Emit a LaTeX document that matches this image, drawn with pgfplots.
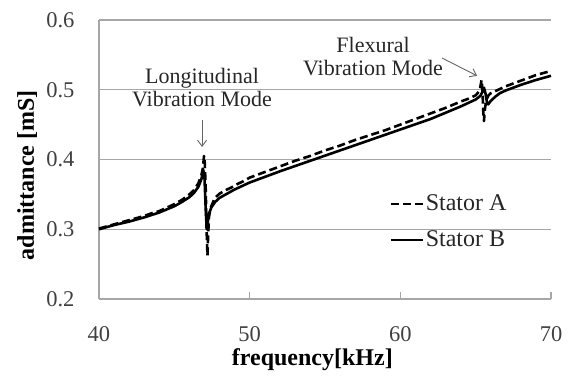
\documentclass[border=0pt]{standalone}
\usepackage{fontspec}
\setmainfont{Liberation Serif}
\usepackage{pgfplots}
\pgfplotsset{compat=1.18}
\usetikzlibrary{arrows.meta}
\definecolor{gridgray}{HTML}{A6A6A6}
\definecolor{tickgray}{HTML}{404040}
\definecolor{txtgray}{HTML}{262626}

\pgfplotstableread{
f y
40.0 0.301
40.5 0.304
41.0 0.307
41.5 0.310
42.0 0.313
42.5 0.316
43.0 0.319
43.5 0.323
44.0 0.326
44.5 0.331
45.0 0.336
45.5 0.342
46.0 0.350
46.3 0.356
46.6 0.366
46.8 0.378
46.9 0.388
46.97 0.405
47.02 0.395
47.08 0.360
47.14 0.300
47.2 0.262
47.24 0.290
47.3 0.318
47.4 0.330
47.55 0.338
47.7 0.345
48.0 0.351
48.4 0.356
48.8 0.360
49.2 0.365
49.6 0.369
50.0 0.374
51.0 0.382
52.0 0.390
53.0 0.398
54.0 0.405
55.0 0.413
56.0 0.420
57.0 0.428
58.0 0.435
59.0 0.442
60.0 0.450
61.0 0.458
62.0 0.466
63.0 0.474
64.0 0.483
64.5 0.487
65.0 0.492
65.2 0.497
65.3 0.503
65.39 0.514
65.45 0.500
65.5 0.470
65.55 0.455
65.6 0.470
65.7 0.485
65.85 0.492
66.0 0.495
66.5 0.500
67.0 0.505
67.5 0.509
68.0 0.513
68.5 0.517
69.0 0.521
69.5 0.524
70.0 0.527
}\statorA

\pgfplotstableread{
f y
40.0 0.300
41.0 0.306
42.0 0.311
43.0 0.317
44.0 0.324
45.0 0.333
45.5 0.339
46.0 0.346
46.3 0.352
46.6 0.361
46.8 0.372
46.92 0.385
47.0 0.375
47.08 0.330
47.15 0.300
47.22 0.310
47.3 0.322
47.45 0.331
47.7 0.339
48.0 0.345
48.5 0.351
49.0 0.357
50.0 0.367
52.0 0.383
54.0 0.398
56.0 0.413
58.0 0.428
60.0 0.443
62.0 0.458
64.0 0.476
65.0 0.486
65.3 0.491
65.45 0.497
65.55 0.503
65.65 0.495
65.75 0.482
65.83 0.479
66.0 0.484
66.3 0.490
66.6 0.495
67.0 0.499
68.0 0.507
69.0 0.514
70.0 0.520
}\statorB

\begin{document}
\fontsize{22}{25}\selectfont
\begin{tikzpicture}
\begin{axis}[
  name=ax,
  scale only axis, width=452pt, height=279pt,
  xmin=40, xmax=70, ymin=0.2, ymax=0.6,
  xtick={40,50,60,70}, ytick={0.2,0.3,0.4,0.5,0.6},
  /pgf/number format/assume math mode=true,
  yticklabel style={/pgf/number format/fixed, /pgf/number format/precision=1, /pgf/number format/fixed zerofill, xshift=-17pt},
  xticklabel style={yshift=-20pt},
  ticklabel style={font=\fontsize{22.5}{25}\selectfont, text=tickgray},
  axis x line*=bottom, axis y line*=left,
  axis line style={draw=gridgray, line width=1.2pt, -},
  ymajorgrids, grid style={draw=gridgray, line width=1.2pt},
  xtick align=inside, major tick length=7pt,
  xtick style={draw=gridgray, line width=1.2pt},
  ytick style={draw=none},
  xlabel={\textbf{frequency[kHz]}},
  ylabel={\textbf{admittance [mS]}},
  every axis x label/.style={at={(axis description cs:0.472,-0.219)}, anchor=center, font=\fontsize{24}{26}\selectfont},
  every axis y label/.style={at={(axis description cs:-0.159,0.444)}, anchor=center, rotate=90, font=\fontsize{24}{26}\selectfont},
  legend style={draw=none, fill=none, at={(axis cs:59.05,0.356)}, anchor=north west, font=\fontsize{24}{26}\selectfont, text=txtgray, row sep=13pt},
  legend cell align=left,
  legend image code/.code={\draw[#1] (0pt,0pt) -- (32pt,0pt);},
  clip=false,
]
\addplot[black, line width=2.6pt, dash pattern=on 8pt off 4pt, line join=round] table[x=f,y=y] {\statorA};
\addlegendentry{Stator A}
\addplot[black, line width=2.6pt, line join=round] table[x=f,y=y] {\statorB};
\addlegendentry{Stator B}

\node[align=center, text=txtgray, font=\fontsize{22}{23}\selectfont] at (axis cs:46.84,0.5025) {Longitudinal\\Vibration Mode};
\draw[gridgray!60!black, line width=0.9pt, -{Straight Barb[length=6pt,width=9pt]}] (axis cs:46.84,0.457) -- (axis cs:46.84,0.418);
\node[align=center, text=txtgray, font=\fontsize{22}{23}\selectfont] at (axis cs:58.19,0.5477) {Flexural\\Vibration Mode};
\draw[gridgray!60!black, line width=0.9pt, -{Straight Barb[length=6pt,width=9pt]}] (axis cs:62.77,0.5455) -- (axis cs:65.09,0.520);
\end{axis}
\pgfresetboundingbox
\path[use as bounding box] ([shift={(-99pt,-86pt)}]ax.south west) rectangle ([shift={(20pt,20pt)}]ax.north east);
\end{tikzpicture}
\end{document}
